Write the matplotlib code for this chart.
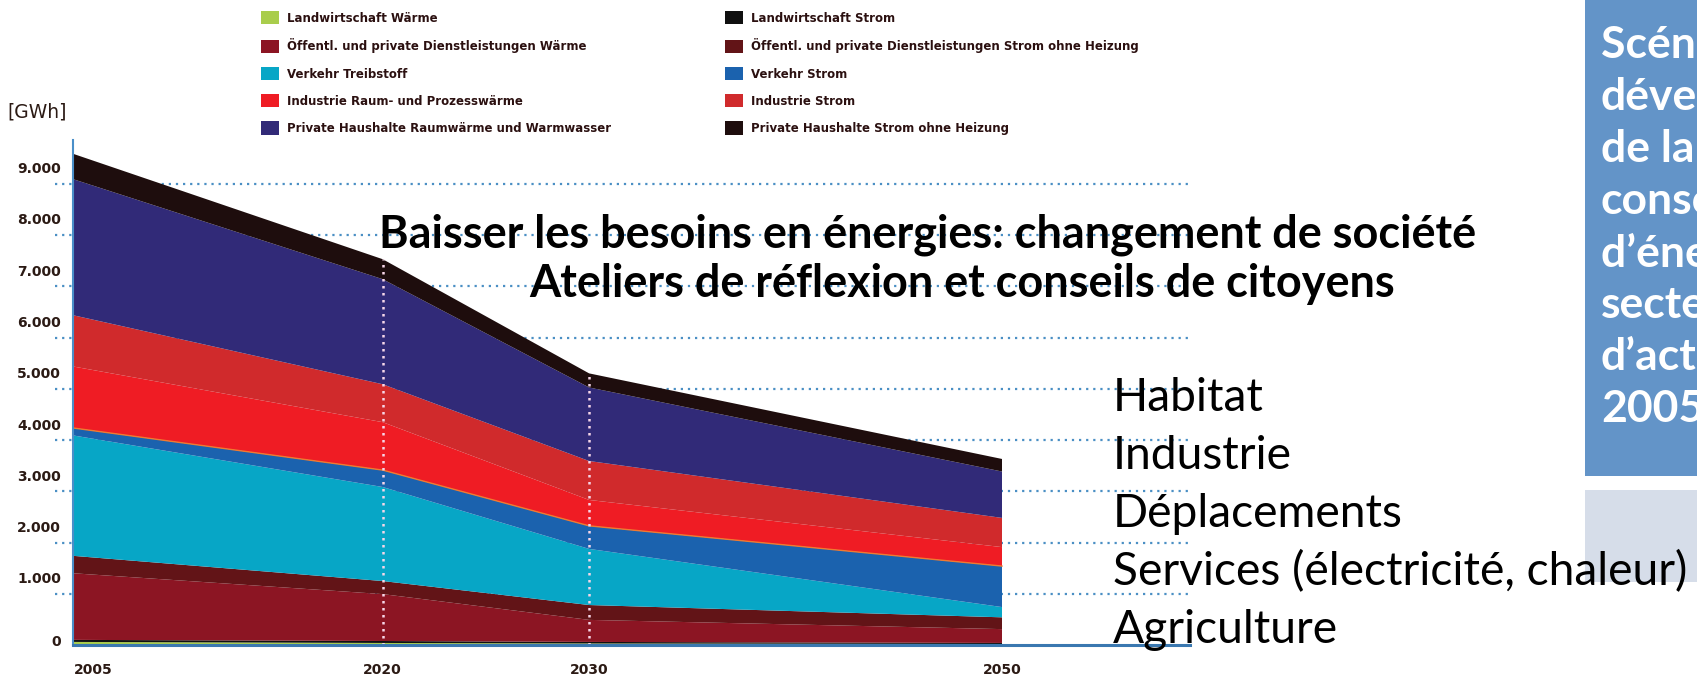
import matplotlib
matplotlib.use('Agg')
import matplotlib.pyplot as plt
from matplotlib.patches import Patch, Rectangle
from matplotlib.transforms import ScaledTranslation
import numpy as np

# energy use by sector, GWh
years = [2005, 2020, 2030, 2050]
landw_waerme = [60, 40, 30, 20]
landw_strom = [40, 38, 30, 20]
dienst_waerme = [1300, 915, 430, 270]
dienst_strom = [340, 255, 290, 230]
verkehr_treibstoff = [2350, 1835, 1095, 200]
verkehr_strom = [145, 330, 450, 800]
industrie_waerme = [1200, 935, 505, 370]
industrie_strom = [1000, 740, 760, 570]
haushalte_waerme = [2655, 2050, 1435, 905]
haushalte_strom = [495, 390, 275, 245]

series = [landw_waerme, landw_strom, dienst_waerme, dienst_strom,
          verkehr_treibstoff, verkehr_strom, industrie_waerme,
          industrie_strom, haushalte_waerme, haushalte_strom]
names = ['Landwirtschaft Wärme', 'Landwirtschaft Strom',
         'Öffentl. und private Dienstleistungen Wärme',
         'Öffentl. und private Dienstleistungen Strom ohne Heizung',
         'Verkehr Treibstoff', 'Verkehr Strom',
         'Industrie Raum- und Prozesswärme', 'Industrie Strom',
         'Private Haushalte Raumwärme und Warmwasser',
         'Private Haushalte Strom ohne Heizung']
colors = ['#a9cd4c', '#101010', '#8c1523', '#621417', '#07a6c6',
          '#1b62ae', '#ef1c24', '#d02a2c', '#312a78', '#1e0d0d']

yticks = [0, 1000, 2000, 3000, 4000, 5000, 6000, 7000, 8000, 9000]
ytick_labels = ['0', '1.000', '2.000', '3.000', '4.000', '5.000',
                '6.000', '7.000', '8.000', '9.000']
year_labels = ['2005', '2020', '2030', '2050']

title_lines = ['Baisser les besoins en énergies: changement de société',
               'Ateliers de réflexion et conseils de citoyens']
sectors = ['Habitat', 'Industrie', 'Déplacements',
           'Services (électricité, chaleur)', 'Agriculture']
box_lines = ['Scénario de', 'développement', 'de la', 'consommation',
             'd’énergie par', 'secteur', 'd’activité', '2005-2050']

W, H = 1697, 677
COND = ['Liberation Sans Narrow', 'DejaVu Sans']


def fx(px):
    return px / W


def fy(py):
    return 1 - py / H


def fit_width(txt, width_px):
    fig.canvas.draw()
    w = txt.get_window_extent().width
    txt.set_fontsize(txt.get_fontsize() * width_px / w)


fig = plt.figure(figsize=(W / 100, H / 100), dpi=100)
fig.patch.set_facecolor('white')

px_year = 929 / 45.0
ax = fig.add_axes([fx(73), fy(645), 1117 / W, 505 / H])
ax.set_xlim(2005, 2005 + 1117 / px_year)
ax.set_ylim(0, 505 / 51.25 * 1000)

ax.stackplot(years, series, colors=colors, linewidth=0, zorder=2)
# thin orange seam under the industry heat band
ax.plot(years, np.sum(series[:6], axis=0), color='#f07a30', lw=1.0, zorder=2.5)

# dotted grid
ax.hlines(yticks[1:], 2005 - 18 / px_year, ax.get_xlim()[1], colors='#4a8fc4',
          linestyles=(0, (1, 2.2)), lw=1.6, zorder=1, clip_on=False)
totals = np.sum(series, axis=0)
ax.vlines(years[1:3], 0, totals[1:3], colors='#f6d6e8',
          linestyles=(0, (1, 1.8)), lw=1.8, zorder=3)

for s in ['top', 'right']:
    ax.spines[s].set_visible(False)
ax.spines['left'].set_color('#4a8fc9')
ax.spines['left'].set_linewidth(1.5)
ax.spines['bottom'].set_color('#3a78b0')
ax.spines['bottom'].set_linewidth(2.2)
ax.spines['left'].set_zorder(4)
ax.spines['bottom'].set_zorder(4)

ax.set_yticks(yticks, ytick_labels)
ax.set_xticks(years, year_labels)
ax.tick_params(length=0)
ax.tick_params(axis='y', pad=8.5)
ax.tick_params(axis='x', pad=13)
for lab in ax.get_yticklabels() + ax.get_xticklabels():
    lab.set_fontfamily(COND)
    lab.set_fontweight('bold')
    lab.set_fontsize(10)
    lab.set_color('#2b1a14')
for lab, v in zip(ax.get_yticklabels(), yticks):
    dy = 5 if v == 0 else 16
    lab.set_transform(lab.get_transform() + ScaledTranslation(0, dy / 100, fig.dpi_scale_trans))
first = ax.get_xticklabels()[0]
first.set_ha('left')
first.set_transform(first.get_transform() + ScaledTranslation(1 / 100, 0, fig.dpi_scale_trans))

fig.text(fx(7), fy(112), '[GWh]', family=COND, fontsize=13.5, va='center',
         color='#2b1a14')

# legend, two columns
handles = [Patch(facecolor=c, edgecolor='none') for c in colors]
for idx, x0 in [([0, 2, 4, 6, 8], 261), ([1, 3, 5, 7, 9], 725)]:
    fig.legend([handles[i] for i in idx], [names[i] for i in idx],
               loc='upper left', bbox_to_anchor=(fx(x0), fy(11)),
               frameon=False, prop=dict(family=COND, size=8.5, weight='bold'),
               labelcolor='#2b1010', handlelength=1.5, handleheight=1.35,
               handletextpad=0.7, labelspacing=1.16, borderpad=0,
               borderaxespad=0)

# title lines
t1 = fig.text(fx(928), fy(247), title_lines[0], family='Lato', weight='bold',
              fontsize=24, ha='center', va='baseline')
fit_width(t1, 1098)
fig.text(fx(962), fy(297), title_lines[1], family='Lato', weight='bold',
         fontsize=t1.get_fontsize(), ha='center', va='baseline')

# sector labels
s3 = fig.text(fx(1113), fy(411 + 58 * 3), sectors[3], family='Lato',
              fontsize=24, va='baseline')
fit_width(s3, 575)
for i, s in enumerate(sectors):
    if i == 3:
        continue
    fig.text(fx(1113), fy(411 + 58 * i), s, family='Lato',
             fontsize=s3.get_fontsize(), va='baseline')

# side boxes
fig.patches.append(Rectangle((fx(1585), fy(476)), 112 / W, 476 / H,
                             transform=fig.transFigure, facecolor='#6394c8',
                             edgecolor='none', zorder=1))
fig.patches.append(Rectangle((fx(1585), fy(582)), 112 / W, 92 / H,
                             transform=fig.transFigure, facecolor='#d6dde9',
                             edgecolor='none', zorder=1))
for i, s in enumerate(box_lines):
    fig.text(fx(1601), fy(45 + 52 * i), s, family='Lato', weight='bold',
             fontsize=32, color='white', va='center')

fig.savefig('out.png', dpi=100)
